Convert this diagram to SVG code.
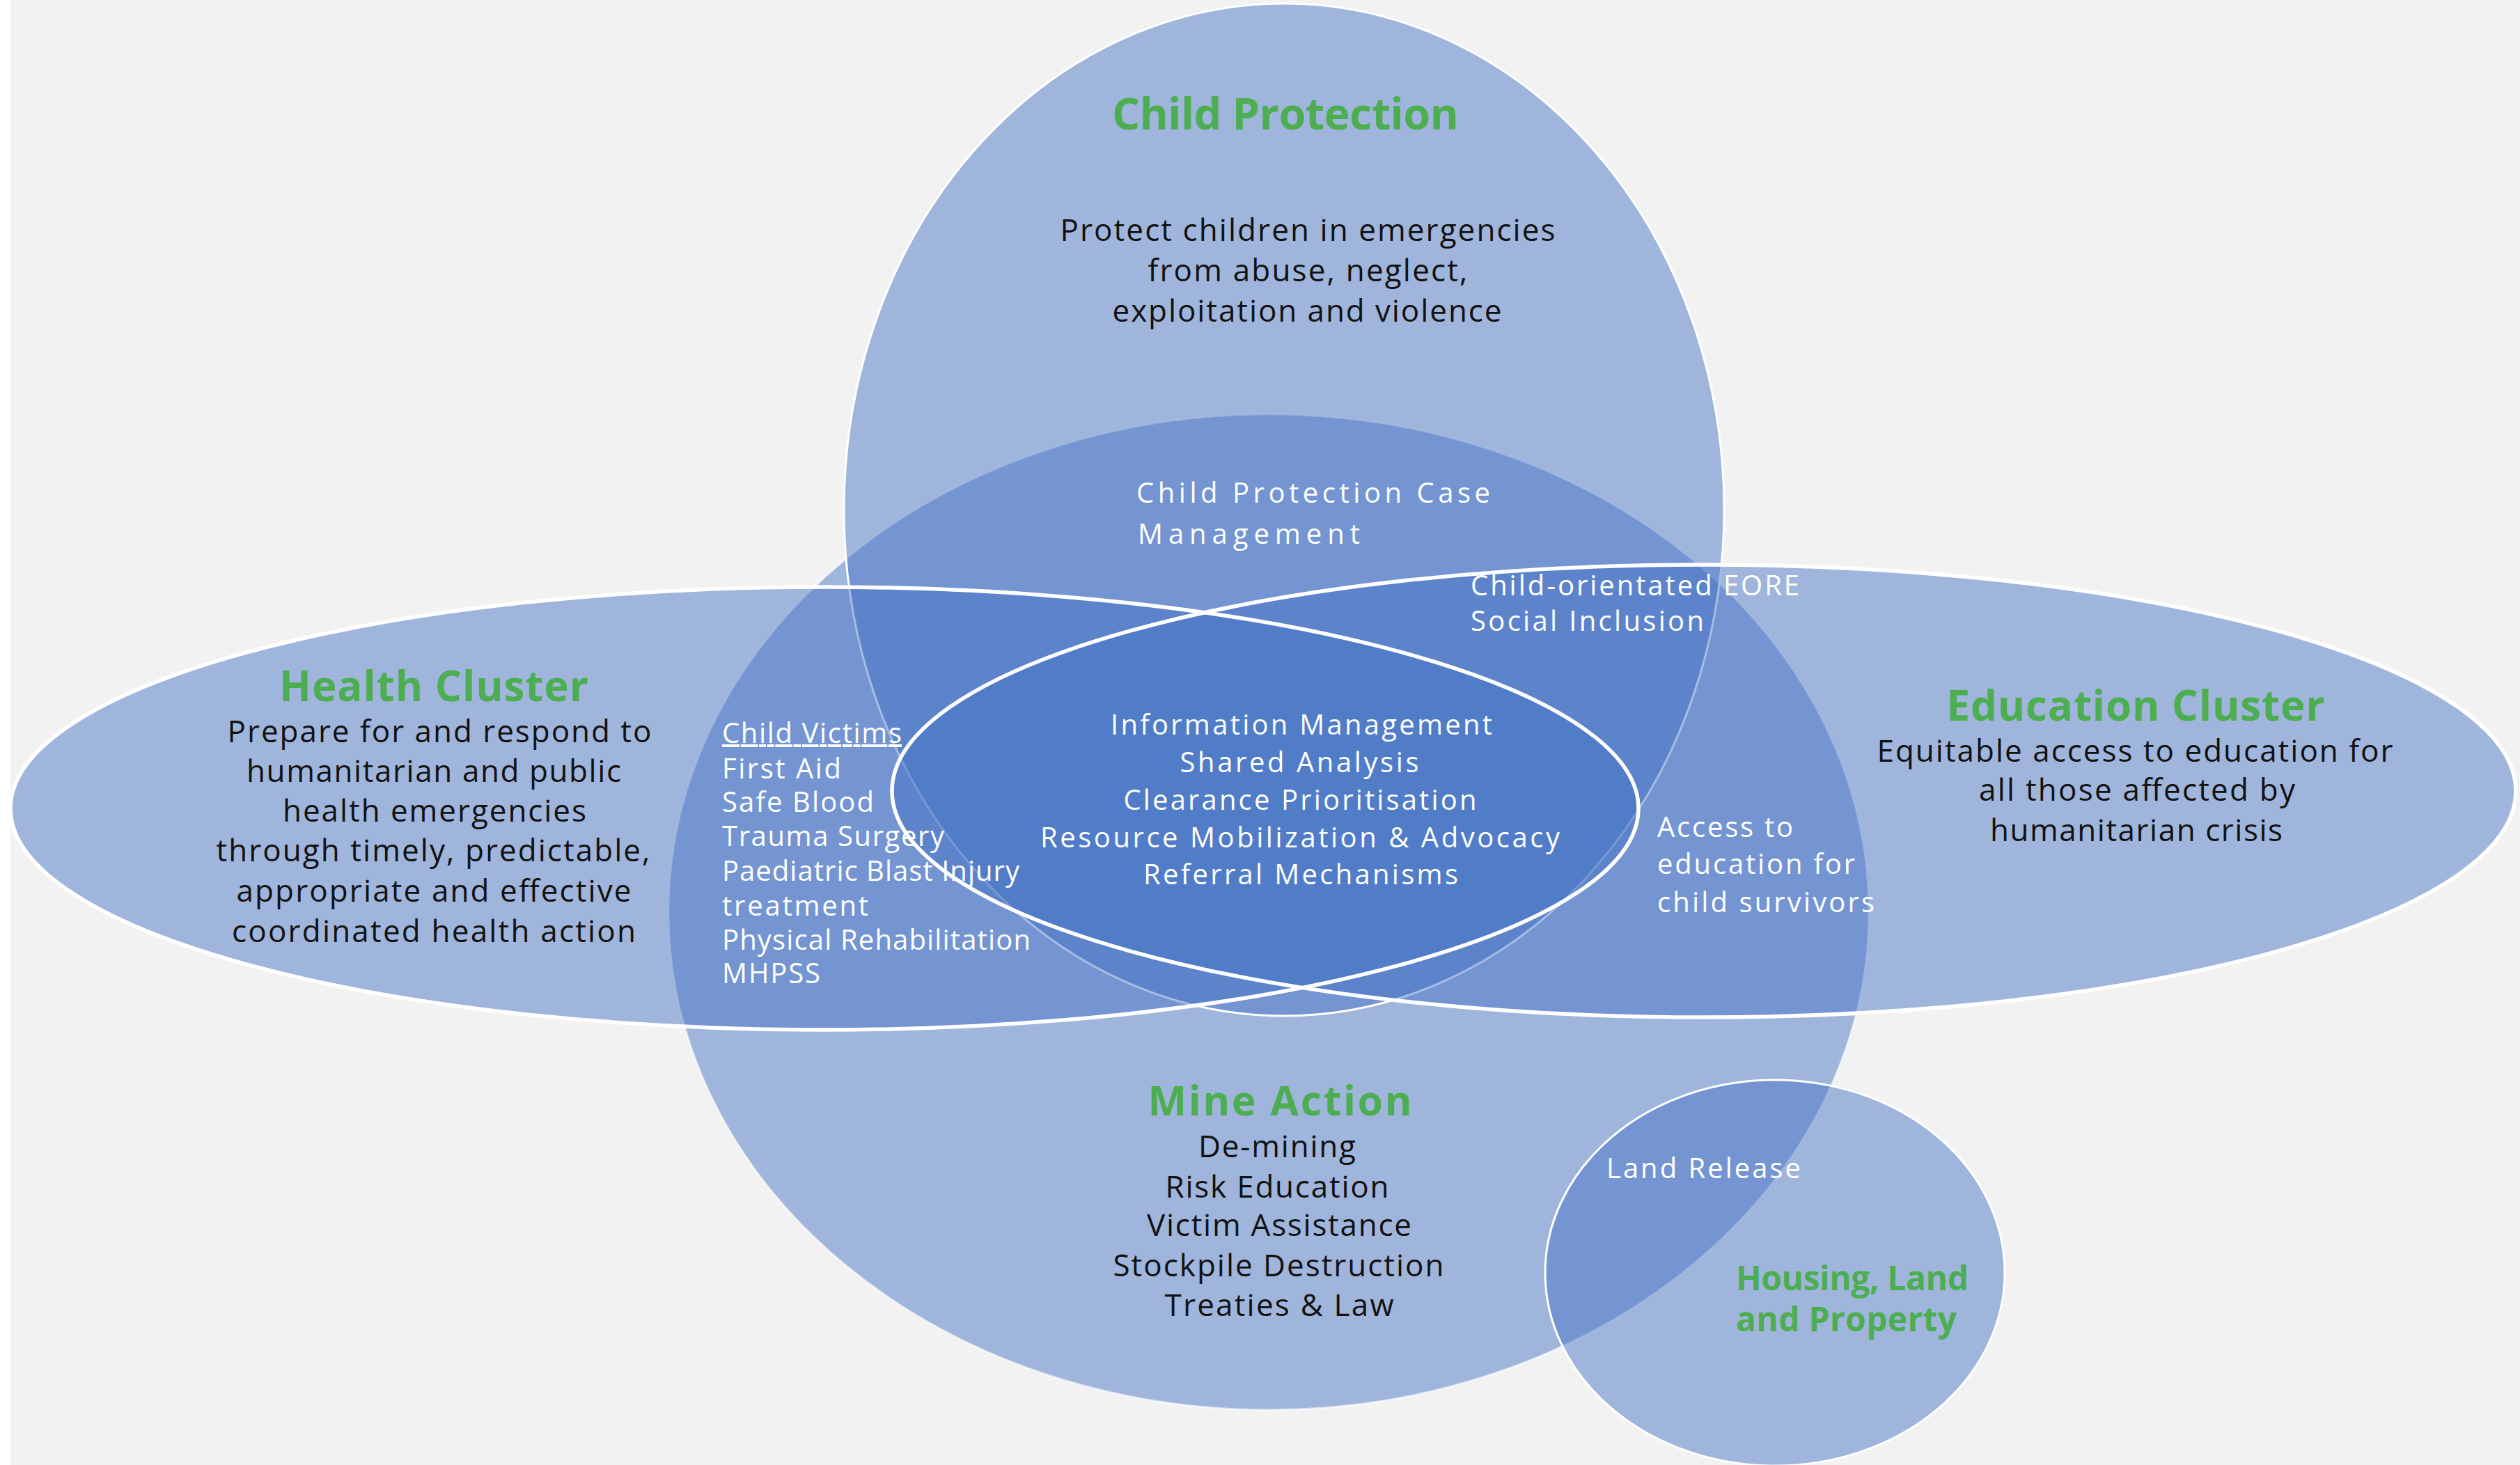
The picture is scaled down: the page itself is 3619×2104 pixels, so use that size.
<svg xmlns="http://www.w3.org/2000/svg" width="3619" height="2104" viewBox="0 0 3619 2104">
  <style>
    .set { fill: #4472c4; fill-opacity: 0.48; }
    .edge-thin { fill: none; stroke: #ffffff; stroke-width: 3; }
    .edge-thick { fill: none; stroke: #ffffff; stroke-width: 5.5; }
    text { font-family: 'Open Sans', 'Liberation Sans', sans-serif; }
    .title { font-weight: bold; fill: #4cae50; }
    .body { font-size: 44px; fill: #111111; }
    .white { font-size: 40px; fill: #ffffff; }
    .mid { text-anchor: middle; }
  </style>

  <rect x="0" y="0" width="3619" height="2104" fill="#f2f2f2"/>
  <rect x="0" y="0" width="15" height="2104" fill="#ffffff"/>

  <!-- node shapes -->
  <g id="node-mine-action">
    <ellipse class="set" cx="1822" cy="1310" rx="862" ry="715"/>
    <ellipse class="edge-thin" cx="1822" cy="1310" rx="862" ry="715" stroke-opacity="0.6"/>
  </g>
  <g id="node-child-protection">
    <ellipse class="set" cx="1844" cy="732" rx="632" ry="727"/>
    <ellipse class="edge-thin" cx="1844" cy="732" rx="632" ry="727"/>
  </g>
  <g id="node-health-cluster">
    <ellipse class="set" cx="1184" cy="1161" rx="1169" ry="318"/>
  </g>
  <g id="node-education-cluster">
    <ellipse class="set" cx="2447" cy="1136" rx="1166" ry="325"/>
  </g>
  <g id="outlines">
    <ellipse class="edge-thick" cx="1184" cy="1161" rx="1169" ry="318"/>
    <ellipse class="edge-thick" cx="2447" cy="1136" rx="1166" ry="325"/>
  </g>
  <g id="node-housing-land-property">
    <ellipse class="set" cx="2549" cy="1828" rx="330" ry="277"/>
    <ellipse class="edge-thin" cx="2549" cy="1828" rx="330" ry="277" stroke-width="4"/>
  </g>

  <!-- labels -->
  <g id="label-child-protection">
    <text class="title mid" x="1846" y="186" font-size="63" textLength="498">Child Protection</text>
    <text class="body mid" x="1878" y="346" textLength="711">Protect children in emergencies</text>
    <text class="body mid" x="1878" y="404" textLength="459">from abuse, neglect,</text>
    <text class="body mid" x="1877" y="462" textLength="559">exploitation and violence</text>
    <text class="white" x="1632" y="722" font-size="47" textLength="508">Child Protection Case</text>
    <text class="white" x="1634" y="781" font-size="47" textLength="319">Management</text>
  </g>

  <g id="label-health-cluster">
    <text class="title mid" x="623" y="1007" font-size="60" textLength="444">Health Cluster</text>
    <text class="body mid" x="631" y="1066" textLength="609">Prepare for and respond to</text>
    <text class="body mid" x="623" y="1123" textLength="538">humanitarian and public</text>
    <text class="body mid" x="624" y="1180" textLength="436">health emergencies</text>
    <text class="body mid" x="622" y="1237" textLength="623">through timely, predictable,</text>
    <text class="body mid" x="623" y="1295" textLength="567">appropriate and effective</text>
    <text class="body mid" x="623" y="1353" textLength="580">coordinated health action</text>
  </g>

  <g id="label-child-victims">
    <text class="white" x="1037" y="1067" textLength="258" style="text-decoration: underline">Child Victims</text>
    <text class="white" x="1037" y="1118" textLength="171">First Aid</text>
    <text class="white" x="1037" y="1166" textLength="218">Safe Blood</text>
    <text class="white" x="1037" y="1215" textLength="319">Trauma Surgery</text>
    <text class="white" x="1037" y="1265" textLength="427">Paediatric Blast Injury</text>
    <text class="white" x="1037" y="1315" textLength="210">treatment</text>
    <text class="white" x="1037" y="1364" textLength="443">Physical Rehabilitation</text>
    <text class="white" x="1037" y="1412" textLength="141">MHPSS</text>
  </g>

  <g id="label-shared-core">
    <text class="white mid" x="1869" y="1055" textLength="548">Information Management</text>
    <text class="white mid" x="1866" y="1109" textLength="343">Shared Analysis</text>
    <text class="white mid" x="1867" y="1163" textLength="507">Clearance Prioritisation</text>
    <text class="white mid" x="1867" y="1217" textLength="746">Resource Mobilization &amp; Advocacy</text>
    <text class="white mid" x="1868" y="1270" textLength="452">Referral Mechanisms</text>
  </g>

  <g id="label-eore">
    <text class="white" x="2112" y="855" textLength="472">Child-orientated EORE</text>
    <text class="white" x="2112" y="906" textLength="335">Social Inclusion</text>
  </g>

  <g id="label-access-education">
    <text class="white" x="2380" y="1202" textLength="195">Access to</text>
    <text class="white" x="2380" y="1255" textLength="284">education for</text>
    <text class="white" x="2380" y="1310" textLength="312">child survivors</text>
  </g>

  <g id="label-education-cluster">
    <text class="title mid" x="3067" y="1035" font-size="60" textLength="543">Education Cluster</text>
    <text class="body mid" x="3066" y="1094" textLength="741">Equitable access to education for</text>
    <text class="body mid" x="3069" y="1150" textLength="454">all those affected by</text>
    <text class="body mid" x="3068" y="1208" textLength="420">humanitarian crisis</text>
  </g>

  <g id="label-mine-action">
    <text class="title mid" x="1838" y="1602" font-size="59" textLength="379">Mine Action</text>
    <text class="body mid" x="1834" y="1662" textLength="226">De-mining</text>
    <text class="body mid" x="1834" y="1720" textLength="321">Risk Education</text>
    <text class="body mid" x="1837" y="1775" textLength="380">Victim Assistance</text>
    <text class="body mid" x="1836" y="1833" textLength="475">Stockpile Destruction</text>
    <text class="body mid" x="1837" y="1890" textLength="329">Treaties &amp; Law</text>
  </g>

  <g id="label-land-release">
    <text class="white" x="2307" y="1692" textLength="279">Land Release</text>
  </g>

  <g id="label-housing-land-property">
    <text class="title" x="2493" y="1853" font-size="48" textLength="334">Housing, Land</text>
    <text class="title" x="2493" y="1912" font-size="48" textLength="317">and Property</text>
  </g>
</svg>
